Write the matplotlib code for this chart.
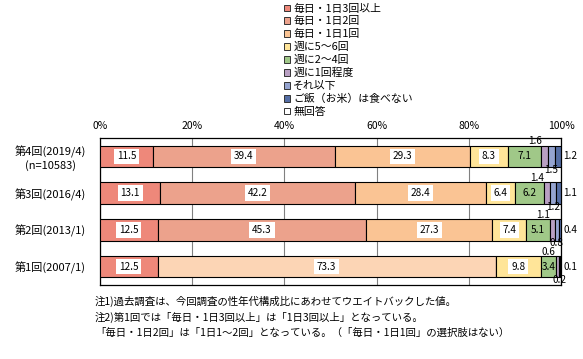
import matplotlib
matplotlib.use('Agg')
import matplotlib.pyplot as plt
from matplotlib.patches import Patch
import numpy as np

plt.rcParams['font.family'] = ['Noto Sans CJK JP', 'DejaVu Sans']

# ---- data ----
rounds = ['第4回(2019/4)\n(n=10583)', '第3回(2016/4)', '第2回(2013/1)', '第1回(2007/1)']
series_names = ['毎日・1日3回以上', '毎日・1日2回', '毎日・1日1回', '週に5～6回', '週に2～4回',
                '週に1回程度', 'それ以下', 'ご飯（お米）は食べない', '無回答']
s_3plus   = [11.5, 13.1, 12.5, 12.5]
s_2times  = [39.4, 42.2, 45.3, 73.3]   # 第1回 is "1日1～2回"
s_1time   = [29.3, 28.4, 27.3, 0.0]
s_5to6    = [8.3, 6.4, 7.4, 9.8]
s_2to4    = [7.1, 6.2, 5.1, 3.4]
s_1week   = [1.6, 1.4, 1.1, 0.6]
s_less    = [1.5, 1.2, 0.8, 0.2]
s_norice  = [1.2, 1.1, 0.4, 0.1]
s_noans   = [0.0, 0.0, 0.0, 0.0]
series = [s_3plus, s_2times, s_1time, s_5to6, s_2to4, s_1week, s_less, s_norice, s_noans]
xticks = [0, 20, 40, 60, 80, 100]
xticklabels = ['0%', '20%', '40%', '60%', '80%', '100%']
notes = ['注1)過去調査は、今回調査の性年代構成比にあわせてウエイトバックした値。',
         '注2)第1回では「毎日・1日3回以上」は「1日3回以上」となっている。',
         '「毎日・1日2回」は「1日1～2回」となっている。（「毎日・1日1回」の選択肢はない）']

colors = ['#EE887A', '#ECA28C', '#FAC494', '#FFE599', '#A0C888',
          '#B9A0C3', '#95A4D0', '#556EA5', '#FFFFFF']
first_round_2times_color = '#FCD5B5'

W, H = 583, 359
fig = plt.figure(figsize=(W / 100, H / 100), dpi=100)
ax = fig.add_axes([100 / W, 1 - 285 / H, 461 / W, 147 / H])

y = np.arange(len(rounds))
bar_h = 0.59
left = np.zeros(len(rounds))
inside_box = [True, True, True, True, False]
for k, vals in enumerate(series):
    vals = np.array(vals)
    cols = [colors[k]] * len(rounds)
    if k == 1:
        cols[3] = first_round_2times_color
    ax.barh(y, vals, left=left, height=bar_h, color=cols, edgecolor='black',
            linewidth=0.8, zorder=3)
    for i, v in enumerate(vals):
        if v <= 0:
            continue
        cx = left[i] + v / 2
        if k <= 4:
            if inside_box[k]:
                ax.text(cx, y[i], f'{v:.1f}', ha='center', va='center', fontsize=7.2,
                        zorder=5, bbox=dict(boxstyle='square,pad=0.28', fc='white', ec='none'))
            else:
                ax.text(cx, y[i], f'{v:.1f}', ha='center', va='center', fontsize=7.2, zorder=5)
        elif k == 5:
            ax.annotate(f'{v:.1f}', (cx, y[i] - bar_h / 2), xytext=(-7, 3),
                        textcoords='offset points', ha='center', va='center',
                        fontsize=7.2, zorder=5)
        elif k == 6:
            ax.annotate(f'{v:.1f}', (cx, y[i] + bar_h / 2), xytext=(0, -2),
                        textcoords='offset points', ha='center', va='center',
                        fontsize=7.2, zorder=5)
        elif k == 7:
            ax.annotate(f'{v:.1f}', (100, y[i]), xytext=(1.5, 0),
                        textcoords='offset points', ha='left', va='center',
                        fontsize=7.2, zorder=5, annotation_clip=False)
    left = left + vals

ax.set_xlim(0, 100)
ax.set_ylim(len(rounds) - 0.5, -0.5)
ax.xaxis.tick_top()
ax.set_xticks(xticks)
ax.set_xticklabels(xticklabels, fontsize=7.5)
ax.tick_params(axis='x', length=0, pad=5)
ax.grid(axis='x', color='#808080', linewidth=0.8, zorder=0)
ax.set_axisbelow(True)
ax.set_yticks(y)
ax.set_yticklabels(rounds, fontsize=8, ha='center', multialignment='center')
ax.tick_params(axis='y', length=0, pad=36)
for sp in ax.spines.values():
    sp.set_color('black')
    sp.set_linewidth(0.9)

handles = [Patch(facecolor=c, edgecolor='#333333', linewidth=0.7) for c in colors]
fig.legend(handles, series_names, loc='upper left', bbox_to_anchor=(284 / W, 1 - 3.5 / H),
           frameon=False, fontsize=7.8, handlelength=0.55, handleheight=0.55,
           handletextpad=0.3, labelspacing=0.25, borderpad=0, borderaxespad=0)

for j, t in enumerate(notes):
    fig.text(95 / W, 1 - (301 + 16 * j) / H, t, fontsize=7.5, ha='left', va='center')

fig.savefig('out.png', dpi=100)
